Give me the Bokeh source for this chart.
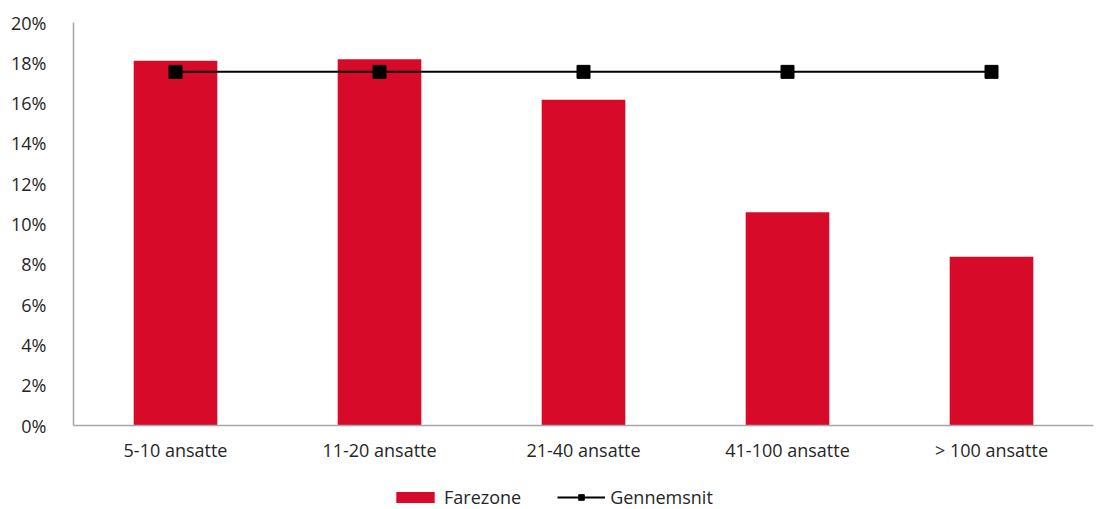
from bokeh.plotting import figure
from bokeh.layouts import column
from bokeh.models import ColumnDataSource, Legend, LegendItem, PrintfTickFormatter, FixedTicker, Range1d
from bokeh.embed import file_html
from bokeh.resources import INLINE

categories = ["5-10 ansatte", "11-20 ansatte", "21-40 ansatte", "41-100 ansatte", "> 100 ansatte"]
farezone = [18.1, 18.17, 16.17, 10.58, 8.38]
gennemsnit = [17.55, 17.55, 17.55, 17.55, 17.55]
y_ticks = [0, 2, 4, 6, 8, 10, 12, 14, 16, 18, 20]

src = ColumnDataSource(dict(cat=categories, bar=farezone, avg=gennemsnit))

FONT = "Open Sans"
TXT = "#262626"
FS = "18px"
RED = "#D70A29"

p = figure(x_range=categories, y_range=Range1d(0, 20), width=1098, height=470,
           output_backend="svg", toolbar_location=None,
           min_border_left=73, min_border_right=5, min_border_top=22, min_border_bottom=45)
p.x_range.range_padding = 0
p.outline_line_color = None
p.grid.grid_line_color = None

p.vbar(x="cat", top="bar", width=0.41, source=src, fill_color=RED, line_color=None)
p.line(x="cat", y="avg", source=src, line_color="black", line_width=2)
p.scatter(x="cat", y="avg", source=src, marker="square", size=13, fill_color="black", line_color="black")

p.yaxis.ticker = FixedTicker(ticks=y_ticks)
p.yaxis.formatter = PrintfTickFormatter(format="%d%%")
for ax in (p.xaxis[0], p.yaxis[0]):
    ax.axis_line_color = "#a6a6a6"
    ax.axis_line_width = 1.5
    ax.major_tick_line_color = None
    ax.minor_tick_line_color = None
    ax.major_label_text_font = FONT
    ax.major_label_text_font_size = FS
    ax.major_label_text_color = TXT
p.yaxis.major_label_standoff = 21
p.xaxis.major_label_standoff = 6

# legend strip under the chart; its sample renderers sit outside the visible range
leg = figure(width=1098, height=39, output_backend="svg", toolbar_location=None,
             x_range=Range1d(0, 1), y_range=Range1d(0, 1),
             x_axis_location=None, y_axis_location=None,
             min_border_left=0, min_border_right=0, min_border_top=0, min_border_bottom=0)
leg.outline_line_color = None
leg.grid.grid_line_color = None
swatch = ColumnDataSource(dict(x=[-10, -9], y=[-10, -10]))
r_bar = leg.vbar(x="x", top="y", width=0.5, source=swatch, fill_color=RED, line_color=None)
r_line = leg.line(x="x", y="y", source=swatch, line_color="black", line_width=2)
r_pts = leg.scatter(x="x", y="y", source=swatch, marker="square", size=13, fill_color="black", line_color="black")

legend = Legend(items=[LegendItem(label="Farezone", renderers=[r_bar]),
                       LegendItem(label="Gennemsnit", renderers=[r_line, r_pts])],
                orientation="horizontal", location=(318, 0),
                label_text_font=FONT, label_text_font_size=FS, label_text_color=TXT,
                glyph_width=48, glyph_height=14, label_standoff=5, spacing=36,
                border_line_color=None, background_fill_alpha=0, margin=0, padding=0)
leg.add_layout(legend, "center")

layout = column(p, leg, spacing=0)
open("out.html", "w").write(file_html(layout, INLINE))
